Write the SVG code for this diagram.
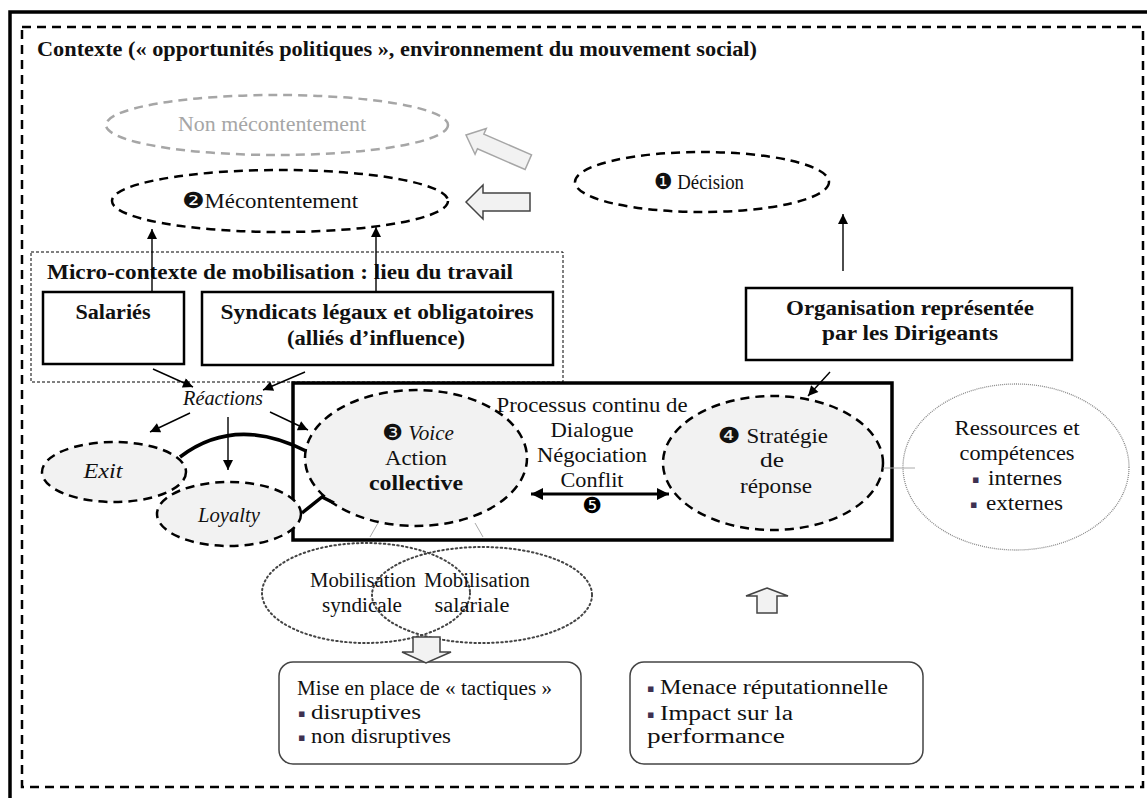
<svg xmlns="http://www.w3.org/2000/svg" width="1147" height="798" viewBox="0 0 1147 798">
<style>
.t{font-family:"Liberation Serif","DejaVu Serif",serif;font-size:20px;fill:#111}
.b{font-weight:bold}
.i{font-style:italic}
.n{font-family:"DejaVu Sans",sans-serif;font-size:22px}
.m{text-anchor:middle}
.dash{fill:none;stroke:#000;stroke-width:2.5;stroke-dasharray:9 6}
.ell{fill:#f2f2f2;stroke:#000;stroke-width:2.5;stroke-dasharray:9 6}
.box{fill:#fff;stroke:#000;stroke-width:2.5}
.arr{fill:none;stroke:#000;stroke-width:1.4;marker-end:url(#ah)}
.blk{fill:#f2f2f2;stroke:#444;stroke-width:1.5}
.dot{fill:none;stroke:#444;stroke-width:2;stroke-dasharray:1.5 3;stroke-linecap:round}
.thin{stroke:#aaa;stroke-width:1;fill:none}
.bul{font-family:"DejaVu Sans",sans-serif;font-size:11px;fill:#3f3151}
</style>
<defs>
<marker id="ah" viewBox="0 0 10 10" refX="10" refY="5" markerUnits="userSpaceOnUse" markerWidth="12" markerHeight="10" orient="auto"><path d="M0,0 L10,5 L0,10 z" fill="#000"/></marker>
<marker id="ah2" viewBox="0 0 10 10" refX="10" refY="5" markerUnits="userSpaceOnUse" markerWidth="14" markerHeight="12" orient="auto-start-reverse"><path d="M0,0 L10,5 L0,10 z" fill="#000"/></marker>
</defs>
<rect width="1147" height="798" fill="#fff"/>
<path d="M10,798 V12 H1147" fill="none" stroke="#000" stroke-width="3.5"/>
<rect id="contexte" x="22" y="27" width="1121" height="760" class="dash"/>
<text class="t b" x="37" y="56" textLength="720" lengthAdjust="spacingAndGlyphs">Contexte (« opportunités politiques », environnement du mouvement social)</text>

<g id="non-mecontentement">
<ellipse cx="277" cy="125" rx="171" ry="30" fill="none" stroke="#a6a6a6" stroke-width="2.5" stroke-dasharray="9 6"/>
<text class="t m" x="272" y="131" style="fill:#a6a6a6" textLength="188" lengthAdjust="spacingAndGlyphs">Non mécontentement</text>
</g>
<g id="mecontentement">
<ellipse cx="280" cy="201" rx="168" ry="31" class="dash"/>
<text class="t" x="182" y="208" textLength="176" lengthAdjust="spacingAndGlyphs"><tspan class="n">❷</tspan>Mécontentement</text>
</g>
<g id="decision">
<ellipse cx="702" cy="182" rx="127" ry="30" class="dash"/>
<text class="t m" x="699" y="189" textLength="90" lengthAdjust="spacingAndGlyphs"><tspan class="n">❶</tspan> Décision</text>
</g>
<g id="grey-arrows">
<polygon points="0,0 16,-14 16,-8 68,-8 68,8 16,8 16,14" transform="translate(466,135) rotate(23.6)" fill="#f2f2f2" stroke="#a6a6a6" stroke-width="1.5"/>
<polygon points="466,202 483,185 483,193 530,193 530,211 483,211 483,219" class="blk"/>
</g>

<g id="micro-contexte">
<rect x="31" y="252" width="532" height="130" fill="none" stroke="#000" stroke-width="1" stroke-dasharray="3 2"/>
<text class="t b" x="47" y="279" textLength="466" lengthAdjust="spacingAndGlyphs">Micro-contexte de mobilisation : lieu du travail</text>
</g>
<g id="salaries">
<rect x="43" y="292" width="141" height="72" class="box"/>
<text class="t b m" x="113" y="319" textLength="75" lengthAdjust="spacingAndGlyphs">Salariés</text>
</g>
<g id="syndicats">
<rect x="202" y="292" width="351" height="73" class="box"/>
<text class="t b m" x="377" y="319" textLength="313" lengthAdjust="spacingAndGlyphs">Syndicats légaux et obligatoires</text>
<text class="t b m" x="376" y="345" textLength="178" lengthAdjust="spacingAndGlyphs">(alliés d’influence)</text>
</g>
<g id="organisation">
<rect x="746" y="288" width="326" height="72" class="box"/>
<text class="t b m" x="910" y="315" textLength="248" lengthAdjust="spacingAndGlyphs">Organisation représentée</text>
<text class="t b m" x="910" y="340" textLength="176" lengthAdjust="spacingAndGlyphs">par les Dirigeants</text>
</g>

<g id="processus">
<rect x="293" y="383" width="599" height="157" fill="none" stroke="#000" stroke-width="3.5"/>
<text class="t m" x="592" y="412" textLength="191" lengthAdjust="spacingAndGlyphs">Processus continu de</text>
<text class="t m" x="592" y="437" textLength="83" lengthAdjust="spacingAndGlyphs">Dialogue</text>
<text class="t m" x="592" y="462" textLength="110" lengthAdjust="spacingAndGlyphs">Négociation</text>
<text class="t m" x="592" y="487" textLength="63" lengthAdjust="spacingAndGlyphs">Conflit</text>
<text class="n m" x="592" y="513">❺</text>
</g>
<g id="voice">
<ellipse cx="416" cy="458" rx="111" ry="68" class="ell"/>
<text class="t m" x="418" y="440" textLength="72" lengthAdjust="spacingAndGlyphs"><tspan class="n">❸</tspan> <tspan class="i">Voice</tspan></text>
<text class="t m" x="416" y="465" textLength="62" lengthAdjust="spacingAndGlyphs">Action</text>
<text class="t b m" x="416" y="490" textLength="94" lengthAdjust="spacingAndGlyphs">collective</text>
</g>
<g id="strategie">
<ellipse cx="773" cy="463" rx="110" ry="67" class="ell"/>
<text class="t m" x="773" y="443" textLength="110" lengthAdjust="spacingAndGlyphs"><tspan class="n">❹</tspan> Stratégie</text>
<text class="t m" x="772" y="467" textLength="24" lengthAdjust="spacingAndGlyphs">de</text>
<text class="t m" x="776" y="493" textLength="72" lengthAdjust="spacingAndGlyphs">réponse</text>
</g>
<g id="ressources">
<ellipse cx="1016" cy="467" rx="113" ry="83" fill="none" stroke="#888" stroke-width="1.3" stroke-dasharray="1 1"/>
<text class="t m" x="1017" y="435" textLength="125" lengthAdjust="spacingAndGlyphs">Ressources et</text>
<text class="t m" x="1017" y="460" textLength="115" lengthAdjust="spacingAndGlyphs">compétences</text>
<text class="bul" x="972" y="483">▪</text>
<text class="t" x="988" y="485" textLength="74" lengthAdjust="spacingAndGlyphs">internes</text>
<text class="bul" x="970" y="508">▪</text>
<text class="t" x="986" y="510" textLength="77" lengthAdjust="spacingAndGlyphs">externes</text>
</g>

<g id="reactions">
<text class="t i m" x="223" y="405" textLength="80" lengthAdjust="spacingAndGlyphs">Réactions</text>
</g>
<g id="exit">
<ellipse cx="114" cy="472" rx="72" ry="30" class="ell"/>
<text class="t i m" x="103" y="478" textLength="39" lengthAdjust="spacingAndGlyphs">Exit</text>
</g>
<g id="loyalty">
<ellipse cx="229" cy="514" rx="72" ry="32" class="ell"/>
<text class="t i m" x="229" y="522" textLength="62" lengthAdjust="spacingAndGlyphs">Loyalty</text>
</g>

<g id="mobilisation">
<ellipse cx="366" cy="593" rx="104" ry="50" class="dot"/>
<ellipse cx="482" cy="595" rx="110" ry="48" class="dot"/>
<text class="t m" x="363" y="587" textLength="106" lengthAdjust="spacingAndGlyphs">Mobilisation</text>
<text class="t m" x="362" y="612" textLength="80" lengthAdjust="spacingAndGlyphs">syndicale</text>
<text class="t m" x="477" y="587" textLength="106" lengthAdjust="spacingAndGlyphs">Mobilisation</text>
<text class="t m" x="472" y="612" textLength="75" lengthAdjust="spacingAndGlyphs">salariale</text>
</g>
<g id="tactiques">
<rect x="279" y="662" width="302" height="102" rx="14" fill="#fff" stroke="#444" stroke-width="1.5"/>
<text class="t" x="297" y="695" textLength="255" lengthAdjust="spacingAndGlyphs">Mise en place de « tactiques »</text>
<text class="bul" x="298" y="717">▪</text>
<text class="t" x="311" y="719" textLength="110" lengthAdjust="spacingAndGlyphs">disruptives</text>
<text class="bul" x="298" y="741">▪</text>
<text class="t" x="311" y="743" textLength="140" lengthAdjust="spacingAndGlyphs">non disruptives</text>
</g>
<g id="menace">
<rect x="630" y="662" width="293" height="102" rx="14" fill="#fff" stroke="#444" stroke-width="1.5"/>
<text class="bul" x="647" y="692">▪</text>
<text class="t" x="660" y="694" textLength="228" lengthAdjust="spacingAndGlyphs">Menace réputationnelle</text>
<text class="bul" x="647" y="718">▪</text>
<text class="t" x="660" y="720" textLength="133" lengthAdjust="spacingAndGlyphs">Impact sur la</text>
<text class="t" x="647" y="743" textLength="138" lengthAdjust="spacingAndGlyphs">performance</text>
</g>

<g id="connectors">
<path d="M152,292 V229" class="arr"/>
<path d="M376,292 V227" class="arr"/>
<path d="M843,271 V214" class="arr"/>
<path d="M830,372 L808,396" class="arr"/>
<path d="M153,369 L193,387" class="arr"/>
<path d="M305,372 L263,390" class="arr"/>
<path d="M190,413 L150,432" class="arr"/>
<path d="M228,417 V470" class="arr"/>
<path d="M270,412 L308,430" class="arr"/>
<path d="M531,494 H669" fill="none" stroke="#000" stroke-width="3" marker-start="url(#ah2)" marker-end="url(#ah2)"/>
<path d="M180,457 Q235,415 306,451" fill="none" stroke="#000" stroke-width="3.5"/>
<path d="M302,513 L322,497 L334,503" fill="none" stroke="#000" stroke-width="3.5"/>
<path d="M883,468 H915" class="thin"/>
<path d="M378,523 L370,537" class="thin"/>
<path d="M475,523 L483,537" class="thin"/>
<polygon points="413,637 440,637 440,652 451,652 426,663 402,652 413,652" class="blk"/>
<polygon points="767,588 788,596 777,596 777,613 757,613 757,596 746,596" class="blk"/>
</g>
</svg>
